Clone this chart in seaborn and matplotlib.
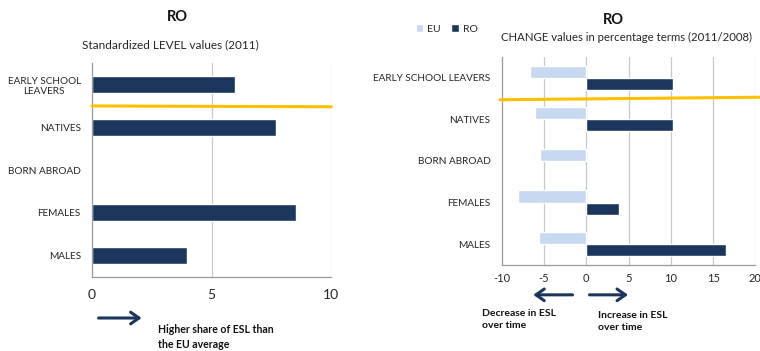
import matplotlib
matplotlib.use("Agg")
import matplotlib.pyplot as plt
import seaborn as sns
import pandas as pd
import numpy as np

sns.set_theme(style="white")
plt.rcParams["font.family"] = ["Lato", "DejaVu Sans"]

# Data
level_categories = ["EARLY SCHOOL\nLEAVERS", "NATIVES", "BORN ABROAD", "FEMALES", "MALES"]
level_values = [5.96, 7.67, np.nan, 8.53, 3.95]

change_categories = ["EARLY SCHOOL LEAVERS", "NATIVES", "BORN ABROAD", "FEMALES", "MALES"]
change_eu = [-6.65, -6.1, -5.43, -8.07, -5.6]
change_ro = [10.3, 10.2, np.nan, 3.86, 16.5]

level_ticks = [0, 5, 10]
change_ticks = [-10, -5, 0, 5, 10, 15, 20]

NAVY = "#1B365D"
LIGHT = "#C6D9F1"
GOLD = "#FFC000"
GRID = "#C8C8C8"
SPINE = "#9A9A9A"
TEXT = "#262626"

fig = plt.figure(figsize=(7.6, 3.51), dpi=100)

# ---- Left panel: standardized level values ----
ax1 = fig.add_axes([0.121, 0.211, 0.315, 0.609])
df_level = pd.DataFrame({"category": level_categories, "value": level_values})
sns.barplot(data=df_level, y="category", x="value", orient="h", color=NAVY,
            saturation=1, width=0.39, ax=ax1, order=level_categories)
ax1.set_xlim(0, 10)
ax1.set_ylim(4.5, -0.5)
ax1.set_xticks(level_ticks)
ax1.set_xticklabels([str(t) for t in level_ticks], fontsize=10, color=TEXT)
ax1.tick_params(axis="x", length=0, pad=9)
ax1.set_yticks(range(len(level_categories)))
ax1.set_yticklabels(level_categories, fontsize=7.2, color=TEXT, ha="right", multialignment="center")
ax1.tick_params(axis="y", length=0, pad=8)
# category boundary ticks on the value axis
ax1.set_yticks(np.arange(-0.5, 5.0, 1.0), minor=True)
ax1.tick_params(axis="y", which="minor", length=4, width=0.8, color=SPINE, direction="inout")
ax1.set_xlabel("")
ax1.set_ylabel("")
for x in level_ticks[1:]:
    ax1.axvline(x, color=GRID, lw=0.9, zorder=0)
for s in ["top", "right"]:
    ax1.spines[s].set_visible(False)
for s in ["left", "bottom"]:
    ax1.spines[s].set_color(SPINE)
    ax1.spines[s].set_linewidth(0.9)
ax1.plot([0, 10], [0.5, 0.52], color=GOLD, lw=2.2, clip_on=False, zorder=5)

fig.text(0.234, 0.951, "RO", ha="center", va="center", fontsize=10.5, fontweight="bold", color="#111111")
fig.text(0.224, 0.873, "Standardized LEVEL values (2011)", ha="center", va="center", fontsize=8.5, color=TEXT)

# ---- Right panel: change values ----
ax2 = fig.add_axes([0.660, 0.245, 0.334, 0.593])
df_change = pd.DataFrame({
    "category": change_categories * 2,
    "value": change_eu + change_ro,
    "series": ["EU"] * len(change_categories) + ["RO"] * len(change_categories),
})
sns.barplot(data=df_change, y="category", x="value", hue="series", orient="h",
            palette={"EU": LIGHT, "RO": NAVY}, saturation=1, width=0.58,
            ax=ax2, order=change_categories, hue_order=["EU", "RO"])
ax2.set_xlim(-10, 20)
ax2.set_ylim(4.5, -0.5)
ax2.set_xticks(change_ticks)
ax2.set_xticklabels([str(t) for t in change_ticks], fontsize=8, color=TEXT)
ax2.tick_params(axis="x", length=0, pad=6)
ax2.set_yticks(range(len(change_categories)))
ax2.set_yticklabels(change_categories, fontsize=7.2, color=TEXT)
ax2.tick_params(axis="y", length=0, pad=8)
ax2.set_xlabel("")
ax2.set_ylabel("")
for x in change_ticks[1:]:
    ax2.axvline(x, color=GRID, lw=0.9, zorder=0)
for s in ["top", "right"]:
    ax2.spines[s].set_visible(False)
for s in ["left", "bottom"]:
    ax2.spines[s].set_color(SPINE)
    ax2.spines[s].set_linewidth(0.9)
ax2.plot([-10.2, 20.5], [0.53, 0.47], color=GOLD, lw=2.2, clip_on=False, zorder=5)

handles, labels = ax2.get_legend_handles_labels()
ax2.legend(handles, labels, loc="center left", bbox_to_anchor=(0.535, 0.917),
           bbox_transform=fig.transFigure, ncol=2, frameon=False, fontsize=7.5,
           handlelength=0.7, handleheight=0.7, handletextpad=0.4, columnspacing=1.0)

fig.text(0.807, 0.943, "RO", ha="center", va="center", fontsize=10.5, fontweight="bold", color="#111111")
fig.text(0.659, 0.893, "CHANGE values in percentage terms (2011/2008)", ha="left", va="center",
         fontsize=8.2, color=TEXT)

# ---- Direction arrows and notes ----
arrow_kw = dict(arrowstyle="->,head_length=0.5,head_width=0.35", color=NAVY, lw=2.2)
fig.add_artist(matplotlib.patches.FancyArrowPatch((0.126, 0.094), (0.190, 0.094),
               transform=fig.transFigure, mutation_scale=12, **arrow_kw))
fig.text(0.208, 0.040, "Higher share of ESL than\nthe EU average", ha="left", va="center",
         fontsize=7.6, fontweight="bold", color="#111111", linespacing=1.35)

fig.add_artist(matplotlib.patches.FancyArrowPatch((0.757, 0.160), (0.698, 0.160),
               transform=fig.transFigure, mutation_scale=12, **arrow_kw))
fig.add_artist(matplotlib.patches.FancyArrowPatch((0.772, 0.160), (0.830, 0.160),
               transform=fig.transFigure, mutation_scale=12, **arrow_kw))
fig.text(0.634, 0.090, "Decrease in ESL\nover time", ha="left", va="center",
         fontsize=7.5, fontweight="bold", color="#111111", linespacing=1.35)
fig.text(0.787, 0.084, "Increase in ESL\nover time", ha="left", va="center",
         fontsize=7.5, fontweight="bold", color="#111111", linespacing=1.35)

fig.savefig("out.png", dpi=100)
